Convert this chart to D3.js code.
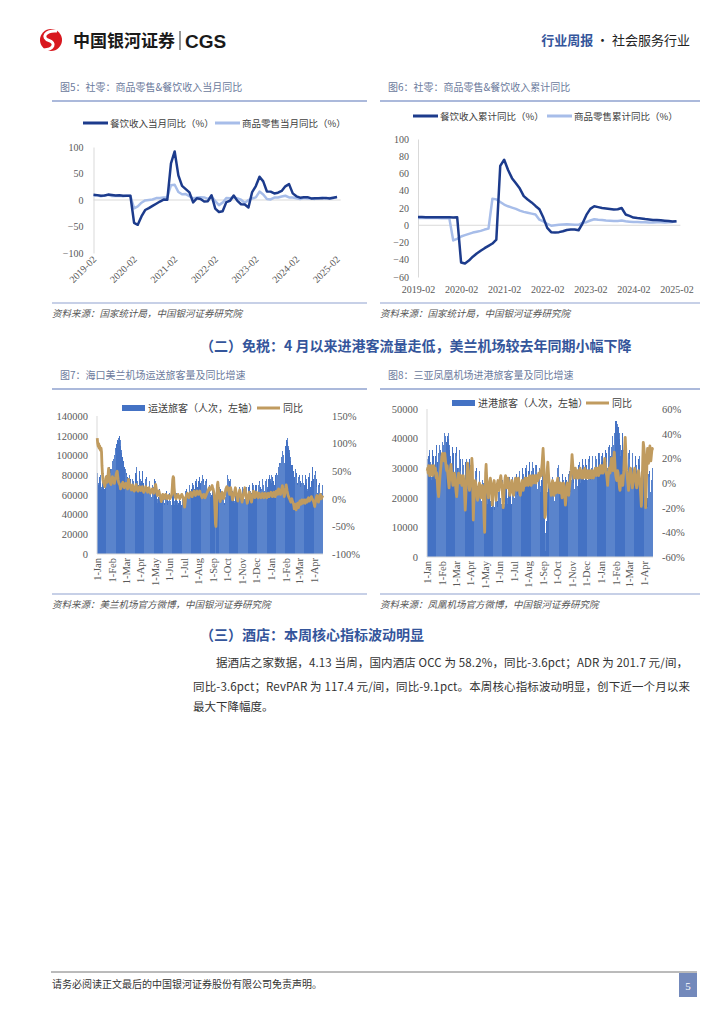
<!DOCTYPE html>
<html>
<head>
<meta charset="utf-8">
<script src="https://cdn.jsdelivr.net/npm/d3@7.9.0/dist/d3.min.js"></script>
<style>
  body { margin: 0; background: #fff; }
  svg { display: block; }
</style>
</head>
<body>
<svg id="page" width="724" height="1024"></svg>
<script>
// Fonts
const SERIF = '"Liberation Serif", "Times New Roman", serif';
const CJK = '"Noto Sans CJK SC", "Noto Sans", sans-serif';

// ---------- Data: monthly retail (charts 5 & 6) ----------
// x categories: Feb..Dec of each year (Jan merged into Feb), then 2025-02/03
const retailYears = [2019, 2020, 2021, 2022, 2023, 2024];
const monthCats = [];
retailYears.forEach((yr) => d3.range(2, 13).forEach((m) => monthCats.push(`${yr}-${String(m).padStart(2, '0')}`)));
monthCats.push('2025-02', '2025-03');
const monthTicks = ['2019-02', '2020-02', '2021-02', '2022-02', '2023-02', '2024-02', '2025-02'];

// chart 5: monthly yoy (%)
const cateringMonthly = [
  9.7, 9.2, 8.0, 8.4, 10.2, 9.6, 8.7, 8.9, 8.2, 8.0, 8.0,
  -43.1, -46.8, -31.1, -18.9, -15.2, -11.0, -7.0, -2.9, 0.8, 0.4,
  68.9, 91.6, 46.4, 26.6, 20.5, 14.3, -4.5, 3.1, 2.0, -2.7, -2.2,
  8.9, -16.4, -22.7, -21.1, -4.0, -1.5, 8.4, -1.7, -8.1, -8.4, -14.1,
  15.0, 26.3, 43.8, 35.1, 16.1, 15.8, 12.4, 13.8, 17.1, 25.8, 30.0,
  12.5, 6.9, 4.4, 5.0, 5.4, 3.0, 3.3, 3.1, 3.2, 4.0, 2.7,
  4.3, 5.6
];
const goodsMonthly = [
  8.2, 8.7, 7.2, 8.6, 9.8, 7.6, 7.5, 7.8, 7.2, 8.0, 8.0,
  -15.8, -12.0, -5.1, -0.8, 0.2, 0.9, 3.6, 4.0, 4.9, 5.2,
  28.0, 28.7, 15.1, 10.9, 11.1, 7.0, 3.3, 4.5, 5.0, 4.8, 2.0,
  6.5, -2.1, -9.7, -5.0, 3.9, 3.2, 5.1, 3.0, 0.5, -5.6, -0.1,
  2.9, 4.9, 15.9, 10.5, 1.7, 1.0, 4.6, 4.6, 6.5, 8.0, 4.8,
  4.6, 3.3, 2.0, 3.7, 2.8, 2.7, 2.1, 3.3, 5.0, 2.8, 3.9,
  3.9, 5.9
];

// chart 6: cumulative yoy (%)
const cateringCumulative = [
  9.7, 9.6, 9.3, 9.2, 9.4, 9.4, 9.3, 9.3, 9.2, 9.1, 9.4,
  -43.1, -44.3, -41.0, -36.5, -32.8, -29.6, -26.6, -23.9, -21.2, -16.6,
  68.9, 75.9, 64.0, 54.6, 48.6, 42.5, 33.8, 29.8, 26.5, 22.4, 18.6,
  8.9, -3.0, -8.0, -8.5, -8.0, -7.0, -5.5, -5.0, -5.0, -5.8,
  2.0, 12.0, 19.0, 22.0, 21.0, 20.0, 19.5, 18.8, 18.2, 18.6, 20.0,
  12.5, 10.8, 8.9, 8.3, 7.9, 7.2, 6.7, 6.2, 6.0, 5.7, 5.3,
  5.0, 4.3, 4.7
];
const goodsCumulative = [
  8.4, 8.5, 8.3, 8.4, 8.5, 8.3, 8.2, 8.2, 8.0,
  -17.6, -15.8, -13.0, -11.5, -10.0, -8.5, -7.5, -6.5, -5.0, -3.9,
  30.7, 30.0, 27.0, 24.0, 22.0, 20.5, 19.0, 17.0, 15.5, 14.5, 13.5, 12.5,
  6.5, 4.5, 1.5, -0.5, 0.0, 0.5, 1.0, 1.2, 1.0, 0.6, 0.5,
  2.9, 3.5, 5.5, 7.0, 6.4, 6.0, 5.4, 5.1, 4.9, 5.0, 5.4,
  4.6, 4.1, 3.7, 3.7, 3.5, 3.4, 3.3, 3.3, 3.4, 3.4, 3.3,
  3.5, 3.9, 4.6
];

// ---------- Data: daily airport passengers (charts 7 & 8) ----------
// 2024-01-01 .. 2025-04-20, one row per week (Mon..Sun)
const days = d3.timeDay.range(new Date(2024, 0, 1), new Date(2025, 3, 21));

// Meilan airport, passengers handled, thousand persons
const meilanPaxK = [
  82, 78, 72, 70, 74, 78, 80,
  72, 68, 66, 70, 74, 76, 75,
  70, 66, 68, 72, 76, 80, 78,
  74, 72, 76, 80, 84, 88, 86,
  82, 80, 86, 90, 94, 92, 96,
  98, 100, 104, 108, 104, 110, 112,
  114, 116, 118, 115, 118, 120, 116,
  110, 106, 102, 100, 98, 96, 94,
  92, 88, 86, 84, 86, 82, 80,
  78, 72, 70, 74, 78, 80, 76,
  72, 66, 64, 70, 76, 80, 74,
  70, 64, 62, 72, 82, 88, 80,
  74, 66, 62, 70, 78, 84, 76,
  72, 68, 74, 80, 84, 78, 72,
  66, 62, 64, 70, 76, 78, 74,
  68, 62, 60, 66, 72, 74, 70,
  66, 60, 58, 64, 70, 72, 68,
  66, 70, 76, 74, 72, 70, 64,
  56, 52, 54, 58, 64, 66, 62,
  58, 54, 52, 56, 62, 64, 60,
  56, 52, 50, 54, 60, 64, 58,
  55, 50, 50, 54, 60, 62, 58,
  54, 50, 50, 54, 60, 64, 66,
  62, 54, 50, 52, 58, 62, 58,
  54, 50, 48, 52, 58, 60, 56,
  54, 50, 50, 54, 58, 60, 58,
  58, 56, 56, 60, 64, 66, 62,
  60, 58, 58, 62, 66, 70, 66,
  64, 62, 62, 66, 70, 72, 70,
  68, 66, 66, 70, 74, 76, 72,
  70, 68, 70, 74, 76, 78, 74,
  72, 70, 70, 74, 76, 80, 76,
  72, 70, 70, 72, 74, 76, 72,
  66, 62, 60, 64, 68, 70, 66,
  62, 58, 56, 60, 64, 66, 62,
  58, 55, 50, 30, 0, 2, 40,
  62, 64, 60, 58, 62, 66, 68,
  66, 62, 56, 54, 58, 62, 60,
  56, 52, 50, 54, 58, 62, 64,
  70, 80, 85, 76, 72, 70, 74,
  76, 66, 58, 56, 60, 64, 62,
  58, 54, 52, 56, 62, 66, 64,
  60, 56, 54, 58, 64, 68, 66,
  62, 58, 56, 60, 66, 68, 66,
  62, 58, 56, 60, 66, 70, 68,
  64, 60, 58, 62, 68, 70, 68,
  64, 60, 58, 62, 68, 72, 70,
  66, 62, 60, 64, 70, 72, 70,
  66, 62, 60, 64, 70, 74, 72,
  68, 64, 62, 66, 72, 76, 74,
  70, 66, 64, 68, 74, 78, 76,
  72, 68, 66, 70, 76, 80, 78,
  76, 74, 80, 72, 74, 78, 76,
  74, 70, 70, 74, 80, 84, 82,
  80, 78, 80, 84, 88, 92, 90,
  90, 92, 96, 98, 100, 104, 102,
  100, 96, 92, 100, 106, 110, 114,
  116, 118, 114, 110, 108, 106, 102,
  98, 94, 92, 90, 92, 90, 86,
  84, 80, 78, 80, 84, 86, 82,
  78, 72, 70, 74, 78, 80, 76,
  74, 68, 66, 72, 78, 80, 76,
  72, 66, 64, 70, 76, 80, 76,
  72, 66, 64, 72, 78, 82, 78,
  74, 68, 66, 74, 80, 88, 82,
  76, 72, 74, 80, 84, 82, 76,
  68, 62, 60, 64, 70, 72, 68,
  64, 60, 58, 62, 68, 70, 66
];
// Meilan yoy (%)
const meilanYoy = [
  110, 100, 95, 100, 92, 96, 90,
  88, 92, 85, 60, 45, 35, 30,
  28, 25, 22, 30, 35, 40, 38,
  30, 35, 45, 55, 45, 35, 30,
  28, 26, 30, 35, 40, 38, 32,
  30, 28, 32, 36, 40, 45, 48,
  50, 42, 35, 30, 28, 26, 24,
  18, 20, 22, 26, 28, 30, 25,
  24, 20, 22, 25, 28, 24, 22,
  20, 18, 28, 35, 30, 25, 22,
  20, 18, 16, 20, 25, 22, 18,
  15, 14, 16, 20, 24, 26, 20,
  18, 15, 14, 16, 20, 22, 18,
  16, 15, 18, 20, 22, 16, 14,
  12, 14, 16, 18, 22, 20, 16,
  14, 12, 15, 18, 20, 16, 12,
  10, 12, 14, 16, 18, 14, 12,
  10, 14, 18, 22, 26, 20, 14,
  8, 6, 10, 12, 14, 10, 6,
  4, 0, -5, 2, 6, 8, 4,
  2, 0, 4, 6, 8, 4, 2,
  0, 2, 4, 6, 4, 2, 0,
  2, 4, 6, 8, 20, 35, 40,
  38, 20, 10, 4, 2, 0, 2,
  4, 6, 8, 6, 4, 2, 0,
  2, 4, 6, 8, 6, 4, 2,
  0, -10, -15, -8, 0, 4, 6,
  8, 10, 6, 4, 2, 6, 8,
  10, 12, 8, 6, 4, 8, 10,
  12, 14, 10, 8, 6, 10, 12,
  14, 12, 10, 8, 10, 12, 14,
  10, 8, 6, 4, 2, 4, 6,
  8, 6, 4, 2, 4, 6, 8,
  10, 12, 14, 16, 18, 20, 18,
  16, 18, 20, 22, 24, 20, 18,
  14, 10, 0, -20, -45, -50, -30,
  0, 25, 30, 20, 10, 5, 0,
  -5, 0, 5, 10, 12, 8, 4,
  0, 2, 6, 10, 14, 18, 20,
  22, 18, 16, 20, 14, 10, 8,
  12, 20, 16, 10, 4, -2, 0,
  4, 8, 12, 16, 20, 14, 8,
  4, 0, -4, 2, 8, 12, 16,
  12, 8, 4, 0, -6, -2, 4,
  8, 12, 16, 20, 14, 8, 2,
  -2, -8, -4, 2, 8, 12, 10,
  6, 2, -2, -6, 0, 6, 10,
  14, 10, 6, 2, 4, 8, 12,
  10, 6, 4, 2, 6, 10, 8,
  6, 4, 2, 4, 8, 10, 6,
  4, 2, 6, 8, 10, 6, 4,
  2, 4, 8, 10, 6, 4, 6,
  8, 10, 12, 8, 6, 4, 6,
  10, 12, 8, 6, 4, 10, 14,
  12, 10, 8, 14, 18, 16, 12,
  10, 8, 12, 16, 20, 24, 18,
  12, 8, 4, 10, 16, 20, 25,
  20, 14, 10, 6, 4, 2, 0,
  -2, -4, -6, -2, 0, -4, -6,
  -8, -12, -18, -14, -10, -16, -20,
  -14, -10, -8, -12, -16, -10, -6,
  -4, -8, -10, -6, -2, -4, -8,
  -6, -4, -2, -6, -8, -4, -2,
  -4, -6, -2, 0, 2, -2, -4,
  -2, 0, 2, 4, 2, 0, -2,
  -4, -6, -10, -14, -8, -4, 0,
  4, 6, 2, -2, -6, -2, 2,
  6, 8, 4, 0, 2, 4, 6
];

// Phoenix airport (Sanya), arriving passengers, thousand persons
const sanyaPaxK = [
  33, 30, 28, 34, 36, 35, 32,
  30, 27, 26, 33, 36, 37, 34,
  31, 28, 27, 34, 37, 38, 35,
  32, 29, 28, 35, 38, 38, 36,
  34, 30, 30, 36, 39, 40, 38,
  40, 42, 43, 41, 40, 38, 39,
  40, 41, 42, 40, 38, 36, 34,
  33, 30, 29, 34, 37, 38, 35,
  31, 27, 26, 32, 35, 37, 34,
  30, 26, 24, 30, 34, 36, 33,
  29, 25, 24, 30, 33, 34, 31,
  28, 24, 22, 28, 32, 33, 30,
  27, 23, 22, 28, 31, 33, 31,
  30, 28, 26, 29, 31, 30, 26,
  25, 22, 21, 26, 29, 30, 27,
  24, 21, 20, 25, 28, 29, 26,
  23, 20, 19, 24, 26, 27, 25,
  22, 18, 8, 20, 24, 26, 22,
  20, 18, 17, 21, 24, 25, 22,
  19, 17, 17, 21, 24, 25, 22,
  19, 17, 16, 21, 23, 25, 22,
  19, 17, 17, 22, 24, 26, 23,
  20, 18, 18, 22, 25, 26, 24,
  22, 18, 17, 22, 25, 26, 23,
  20, 18, 17, 22, 25, 27, 24,
  21, 19, 18, 23, 26, 27, 25,
  22, 20, 20, 24, 27, 28, 25,
  23, 21, 21, 25, 28, 29, 27,
  24, 22, 22, 26, 29, 30, 28,
  25, 23, 24, 28, 30, 31, 29,
  26, 24, 25, 29, 31, 32, 30,
  27, 25, 25, 29, 31, 32, 30,
  27, 25, 25, 29, 31, 31, 29,
  26, 23, 23, 27, 29, 30, 28,
  24, 22, 22, 26, 28, 29, 26,
  23, 21, 18, 8, 2, 3, 12,
  20, 22, 24, 26, 28, 27, 24,
  23, 21, 20, 24, 26, 27, 24,
  21, 19, 19, 23, 25, 26, 24,
  26, 30, 32, 31, 29, 27, 25,
  24, 21, 20, 24, 27, 28, 26,
  23, 21, 21, 25, 27, 28, 26,
  23, 21, 21, 25, 28, 29, 27,
  24, 22, 22, 26, 29, 30, 28,
  25, 23, 23, 27, 30, 31, 29,
  26, 24, 24, 28, 31, 32, 30,
  27, 25, 25, 29, 32, 33, 31,
  28, 26, 26, 30, 33, 33, 31,
  28, 26, 26, 30, 33, 34, 32,
  28, 26, 26, 30, 33, 34, 32,
  29, 27, 27, 31, 34, 35, 33,
  30, 28, 28, 32, 35, 35, 33,
  31, 30, 34, 32, 34, 35, 33,
  31, 29, 29, 33, 36, 37, 35,
  32, 30, 30, 34, 37, 38, 36,
  34, 32, 33, 37, 40, 41, 39,
  38, 40, 42, 44, 45, 46, 45,
  46, 45, 44, 43, 44, 42, 40,
  38, 34, 30, 36, 40, 42, 40,
  36, 32, 30, 35, 38, 40, 37,
  33, 29, 27, 32, 35, 36, 33,
  30, 26, 24, 30, 34, 35, 32,
  29, 25, 24, 30, 33, 34, 31,
  29, 25, 23, 29, 33, 34, 31,
  28, 24, 23, 29, 32, 33, 30,
  30, 28, 31, 33, 33, 30, 27,
  24, 20, 17, 24, 28, 29, 27,
  25, 22, 21, 26, 29, 30, 28
];
// Sanya yoy (%)
const sanyaYoy = [
  10, 12, 8, 14, 10, 6, 12,
  8, 12, 14, 10, 6, 10, 12,
  14, 10, 8, 12, 6, 4, 8,
  2, -4, -8, -11, -6, 0, 6,
  10, 14, 18, 22, 24, 22, 20,
  18, 22, 24, 20, 16, 12, 10,
  14, 8, 4, 0, -4, 2, 8,
  12, 15, 10, 6, 2, -2, 0,
  4, 8, 6, 2, -4, -8, -11,
  -6, 0, 4, 8, 6, 2, 0,
  4, 6, 2, -2, 0, 4, 6,
  2, -4, -12, -22, -14, -4, 4,
  10, 16, 12, 6, 0, -6, -2,
  4, 8, 12, 20, 14, -10, -30,
  -18, -8, -2, 2, 0, -4, -8,
  -12, -14, -10, -6, -2, 0, -4,
  -8, -12, -10, -6, -2, -4, -10,
  -20, -32, -40, -10, 8, 15, 6,
  0, -4, -8, -12, -6, -2, 2,
  4, 0, -6, -12, -18, -10, -4,
  0, 2, -2, -6, -10, -14, -8,
  -4, 0, 2, -2, -6, -2, 2,
  4, 6, 2, -2, -6, -12, -20,
  -14, -6, 0, 4, 6, 2, -2,
  -4, 0, 4, 2, -2, -6, -10,
  -8, -4, 0, 2, -2, -6, -8,
  -10, -6, -2, 2, 4, 0, -4,
  -6, -2, 2, 4, 0, -4, -8,
  -10, -6, -2, 0, 2, -2, -6,
  -4, 0, 2, 4, 0, -2, 2,
  4, 2, 0, -2, 2, 4, 6,
  2, 0, -2, 2, 4, 6, 2,
  0, 2, 4, 6, 2, 0, 4,
  6, 4, 2, 6, 8, 4, 6,
  8, 10, 6, 12, 16, 22, 28,
  20, 10, -10, -28, -26, -12, 0,
  6, 12, 17, 10, 4, 0, -4,
  -2, -6, -10, -4, 0, 2, -2,
  -6, -10, -6, -2, 0, -4, -8,
  -4, 2, 4, 0, -4, -8, -6,
  -2, 0, -4, -8, -12, -6, -2,
  0, -4, -8, -12, -18, -14, -6,
  -2, 0, -4, -8, -10, -6, -2,
  2, 6, 10, 16, 23, 18, 12,
  8, 4, 6, 10, 12, 8, 6,
  4, 8, 10, 6, 4, 8, 10,
  12, 8, 6, 4, 8, 10, 6,
  4, 6, 10, 12, 8, 6, 4,
  6, 8, 10, 6, 4, 6, 8,
  10, 6, 4, 6, 8, 10, 6,
  4, 6, 8, 10, 12, 8, 6,
  8, 10, 12, 8, 6, 10, 12,
  14, 10, 8, 12, 14, 10, 8,
  10, 12, 16, 20, 14, 10, 8,
  6, 2, -2, 4, 8, 12, 10,
  8, 12, 16, 20, 18, 14, 10,
  14, 20, 25, 18, 10, 6, 4,
  2, 6, 10, 8, 4, 0, -4,
  -6, -2, 2, 6, 4, 0, -2,
  4, 10, 20, 30, 37, 28, 16,
  10, 6, 2, -2, -6, 0, 6,
  10, 12, 8, 4, 0, -4, -2,
  2, 6, 10, 12, 8, 4, 0,
  -4, -2, 2, 6, 10, 8, 4,
  0, -6, -12, -19, -10, 4, 20,
  33, 30, 26, 20, 10, -20, -10,
  6, 20, 28, 22, 16, 20, 26,
  30, 24, 18, 22, 26, 28, 27
];

// Text content
const paragraphLines = [
  '据酒店之家数据，4.13 当周，国内酒店 OCC 为 58.2%，同比-3.6pct；ADR 为 201.7 元/间，',
  '同比-3.6pct；RevPAR 为 117.4 元/间，同比-9.1pct。本周核心指标波动明显，创下近一个月以来',
  '最大下降幅度。'
];

// Colours
const DARK = '#1c3b8c';
const LIGHT = '#a7bde9';
const BAR = '#4472c4';
const TAN = '#c09b5f';
const RULE = '#8fa2cf';
const HEAD = '#34559b';

const svg = d3.select('#page');

// ---------- Page header ----------
const hdr = svg.append('g');
hdr.append('circle').attr('cx', 51).attr('cy', 40).attr('r', 11).attr('fill', '#d8181f');
hdr.append('path')
  .attr('d', 'M57,31 C45,30 41,38 49,40.5 C56,43 54,49 44,50')
  .attr('fill', 'none').attr('stroke', '#fff').attr('stroke-width', 3);
hdr.append('text').attr('x', 73).attr('y', 47)
  .attr('font-family', CJK).attr('font-size', 17).attr('font-weight', 700).attr('fill', '#1a1a1a')
  .text('中国银河证券');
hdr.append('line').attr('x1', 180).attr('x2', 180).attr('y1', 31).attr('y2', 50).attr('stroke', '#333');
hdr.append('text').attr('x', 185).attr('y', 48)
  .attr('font-family', '"Liberation Sans", Arial, sans-serif').attr('font-size', 19).attr('font-weight', 700)
  .attr('fill', '#1a1a1a').text('CGS');
const hr = hdr.append('text').attr('x', 690).attr('y', 45).attr('text-anchor', 'end')
  .attr('font-family', CJK).attr('font-size', 13);
hr.append('tspan').attr('fill', HEAD).attr('font-weight', 700).text('行业周报');
hr.append('tspan').attr('fill', '#222').text(' · 社会服务行业');

// ---------- Helpers ----------
function figTitle(x0, x1, y, label) {
  svg.append('text').attr('x', x0 + 8).attr('y', y)
    .attr('font-family', CJK).attr('font-size', 10).attr('fill', '#6b7a9c').text(label);
  svg.append('line').attr('x1', x0).attr('x2', x1).attr('y1', y + 10).attr('y2', y + 10)
    .attr('stroke', RULE).attr('stroke-width', 1.5);
}

function figSource(x0, x1, y, label) {
  svg.append('line').attr('x1', x0).attr('x2', x1).attr('y1', y).attr('y2', y)
    .attr('stroke', RULE).attr('stroke-width', 1.2);
  svg.append('text').attr('x', x0).attr('y', y + 14)
    .attr('font-family', CJK).attr('font-size', 9.5).attr('font-style', 'italic')
    .attr('fill', '#555').text(label);
}

function styleAxisText(sel, family, size) {
  sel.selectAll('text').attr('font-family', family).attr('font-size', size).attr('fill', '#595959');
}

// ---------- Line charts (figures 5 and 6) ----------
function drawLineChart(c) {
  const g = svg.append('g');
  const x = d3.scaleLinear().domain([0, monthCats.length - 1]).range([c.x0, c.x1]);
  const y = d3.scaleLinear().domain(c.yDomain).range([c.yBottom, c.yTop]);

  // y axis
  const ya = g.append('g').attr('transform', `translate(${c.x0},0)`)
    .call(d3.axisLeft(y).tickValues(c.yTicks).tickSize(0).tickSizeOuter(0).tickPadding(c.yPad));
  ya.select('.domain').attr('stroke', '#d9d9d9');
  styleAxisText(ya, SERIF, 10);

  // zero line
  g.append('line').attr('x1', c.x0).attr('x2', c.x1).attr('y1', y(0)).attr('y2', y(0))
    .attr('stroke', '#d9d9d9');

  // x axis
  const tickIdx = monthTicks.map((m) => monthCats.indexOf(m));
  const xa = g.append('g').attr('transform', `translate(0,${c.xAxisY})`)
    .call(d3.axisBottom(x).tickValues(tickIdx).tickFormat((i) => monthCats[i]).tickSize(0).tickPadding(3));
  xa.select('.domain').remove();
  styleAxisText(xa, SERIF, 10);
  if (c.rotate) {
    xa.selectAll('text').attr('y', 0).attr('dy', 0).attr('text-anchor', 'end')
      .attr('transform', 'translate(3,7) rotate(-45)');
  }

  // series
  const line = d3.line().x((d, i) => x(i)).y((d) => y(d));
  g.append('path').datum(c.light).attr('d', line)
    .attr('fill', 'none').attr('stroke', LIGHT).attr('stroke-width', 2.5).attr('stroke-linejoin', 'round');
  g.append('path').datum(c.dark).attr('d', line)
    .attr('fill', 'none').attr('stroke', DARK).attr('stroke-width', 2.5).attr('stroke-linejoin', 'round');

  // legend
  const lg = g.append('g').attr('font-family', CJK).attr('font-size', 9.5).attr('fill', '#404040');
  c.legend.forEach((item) => {
    lg.append('line').attr('x1', item.x).attr('x2', item.x + 25).attr('y1', c.legendY).attr('y2', c.legendY)
      .attr('stroke', item.color).attr('stroke-width', 3);
    lg.append('text').attr('x', item.x + 27).attr('y', c.legendY + 3.5).text(item.label);
  });
}

// ---------- Bar + line charts (figures 7 and 8) ----------
function drawBarLineChart(c) {
  const g = svg.append('g');
  const x = d3.scaleBand().domain(d3.range(days.length)).range([c.x0, c.x1]).paddingInner(0);
  const yl = d3.scaleLinear().domain([0, c.leftMax]).range([c.bottom, c.top]);
  const yr = d3.scaleLinear().domain(c.rightDomain).range([c.bottom, c.top]);

  // bars (crisp edges so the thin daily bars keep their full colour)
  g.append('g').attr('shape-rendering', 'crispEdges')
    .selectAll('rect').data(c.pax).join('rect')
    .attr('x', (d, i) => x(i))
    .attr('width', x.bandwidth() + 0.3)
    .attr('y', (d) => yl(d * 1000))
    .attr('height', (d) => c.bottom - yl(d * 1000))
    .attr('fill', (d, i) => (i % 2 ? BAR : '#5a84cc'));

  // axis lines
  g.append('line').attr('x1', c.x0).attr('x2', c.x0).attr('y1', c.top).attr('y2', c.bottom).attr('stroke', '#d9d9d9');
  g.append('line').attr('x1', c.x0).attr('x2', c.x1).attr('y1', c.bottom).attr('y2', c.bottom).attr('stroke', '#d9d9d9');

  // yoy line
  const line = d3.line().x((d, i) => x(i) + x.bandwidth() / 2).y((d) => yr(d));
  g.append('path').datum(c.yoy).attr('d', line)
    .attr('fill', 'none').attr('stroke', TAN).attr('stroke-width', 2.8).attr('stroke-linejoin', 'round');

  // left axis
  const la = g.append('g').attr('transform', `translate(${c.x0},0)`)
    .call(d3.axisLeft(yl).tickValues(d3.range(0, c.leftMax + 1, c.leftStep)).tickFormat(d3.format('d'))
      .tickSize(0).tickPadding(9));
  la.select('.domain').remove();
  styleAxisText(la, SERIF, 10.5);

  // right axis
  const ra = g.append('g').attr('transform', `translate(${c.x1},0)`)
    .call(d3.axisRight(yr).tickValues(c.rightTicks).tickFormat((d) => `${d}%`).tickSize(0).tickPadding(9));
  ra.select('.domain').remove();
  styleAxisText(ra, SERIF, 10.5);

  // x axis: first day of each month
  const fmt = d3.timeFormat('%-d-%b');
  const tickIdx = d3.range(days.length).filter((i) => days[i].getDate() === 1);
  const xa = g.append('g').attr('transform', `translate(0,${c.bottom})`)
    .call(d3.axisBottom(x).tickValues(tickIdx).tickFormat((i) => fmt(days[i])).tickSize(0));
  xa.select('.domain').remove();
  styleAxisText(xa, SERIF, 10.5);
  xa.selectAll('text').attr('y', 0).attr('dy', '0.35em').attr('text-anchor', 'end')
    .attr('transform', 'translate(0,4) rotate(-90)');

  // legend
  const lg = g.append('g').attr('font-family', CJK).attr('font-size', 10).attr('fill', '#404040');
  lg.append('rect').attr('x', c.legendX[0]).attr('y', c.legendY - 3).attr('width', 23).attr('height', 6).attr('fill', BAR);
  lg.append('text').attr('x', c.legendX[0] + 26).attr('y', c.legendY + 3.5).text(c.barLabel);
  lg.append('line').attr('x1', c.legendX[1]).attr('x2', c.legendX[1] + 23).attr('y1', c.legendY).attr('y2', c.legendY)
    .attr('stroke', TAN).attr('stroke-width', 3);
  lg.append('text').attr('x', c.legendX[1] + 26).attr('y', c.legendY + 3.5).text('同比');
}

// ---------- Figures 5 & 6 ----------
figTitle(52, 367, 91, '图5：社零：商品零售&餐饮收入当月同比');
figTitle(380, 700, 91, '图6：社零：商品零售&餐饮收入累计同比');

drawLineChart({
  x0: 93.5, x1: 340.7, yTop: 147, yBottom: 253, yDomain: [-100, 100],
  yTicks: [-100, -50, 0, 50, 100], yPad: 10, xAxisY: 253, rotate: true,
  dark: cateringMonthly, light: goodsMonthly, legendY: 123,
  legend: [
    { x: 83, color: DARK, label: '餐饮收入当月同比（%）' },
    { x: 215, color: LIGHT, label: '商品零售当月同比（%）' }
  ]
});

drawLineChart({
  x0: 418, x1: 680.4, yTop: 139, yBottom: 277, yDomain: [-60, 100],
  yTicks: d3.range(-60, 101, 20), yPad: 9, xAxisY: 283, rotate: false,
  dark: cateringCumulative, light: goodsCumulative, legendY: 116,
  legend: [
    { x: 413, color: DARK, label: '餐饮收入累计同比（%）' },
    { x: 547, color: LIGHT, label: '商品零售累计同比（%）' }
  ]
});

figSource(52, 367, 303, '资料来源：国家统计局，中国银河证券研究院');
figSource(380, 700, 303, '资料来源：国家统计局，中国银河证券研究院');

// ---------- Section heading ----------
svg.append('text').attr('x', 200).attr('y', 351)
  .attr('font-family', CJK).attr('font-size', 14).attr('font-weight', 700).attr('fill', HEAD)
  .text('（二）免税：4 月以来进港客流量走低，美兰机场较去年同期小幅下降');

// ---------- Figures 7 & 8 ----------
figTitle(52, 367, 379, '图7：海口美兰机场运送旅客量及同比增速');
figTitle(380, 700, 379, '图8：三亚凤凰机场进港旅客量及同比增速');

drawBarLineChart({
  x0: 97, x1: 323, top: 416, bottom: 554, leftMax: 140000, leftStep: 20000,
  rightDomain: [-100, 150], rightTicks: [-100, -50, 0, 50, 100, 150],
  pax: meilanPaxK, yoy: meilanYoy,
  legendY: 408, legendX: [122, 257], barLabel: '运送旅客（人次，左轴）'
});

drawBarLineChart({
  x0: 427, x1: 653, top: 409, bottom: 557, leftMax: 50000, leftStep: 10000,
  rightDomain: [-60, 60], rightTicks: d3.range(-60, 61, 20),
  pax: sanyaPaxK, yoy: sanyaYoy,
  legendY: 403, legendX: [452, 586], barLabel: '进港旅客（人次，左轴）'
});

figSource(52, 367, 594, '资料来源：美兰机场官方微博，中国银河证券研究院');
figSource(380, 700, 594, '资料来源：凤凰机场官方微博，中国银河证券研究院');

// ---------- Section 3 ----------
svg.append('text').attr('x', 200).attr('y', 640)
  .attr('font-family', CJK).attr('font-size', 14).attr('font-weight', 700).attr('fill', HEAD)
  .text('（三）酒店：本周核心指标波动明显');

const para = [
  { x: 216, y: 667, w: 472 },
  { x: 193, y: 691, w: 497 },
  { x: 193, y: 711, w: null }
];
paragraphLines.forEach((t, i) => {
  const p = para[i];
  const el = svg.append('text').attr('x', p.x).attr('y', p.y)
    .attr('font-family', CJK).attr('font-size', 11.5).attr('fill', '#333').text(t);
  if (p.w) el.attr('textLength', p.w).attr('lengthAdjust', 'spacing');
});

// ---------- Footer ----------
svg.append('line').attr('x1', 51).attr('x2', 697).attr('y1', 972).attr('y2', 972).attr('stroke', '#777');
svg.append('text').attr('x', 52).attr('y', 988)
  .attr('font-family', CJK).attr('font-size', 10).attr('fill', '#333')
  .text('请务必阅读正文最后的中国银河证券股份有限公司免责声明。');
svg.append('rect').attr('x', 679).attr('y', 973).attr('width', 18).attr('height', 24).attr('fill', '#7389bb');
svg.append('text').attr('x', 688).attr('y', 990).attr('text-anchor', 'middle')
  .attr('font-family', SERIF).attr('font-size', 11).attr('fill', '#fff').text('5');
</script>
</body>
</html>
